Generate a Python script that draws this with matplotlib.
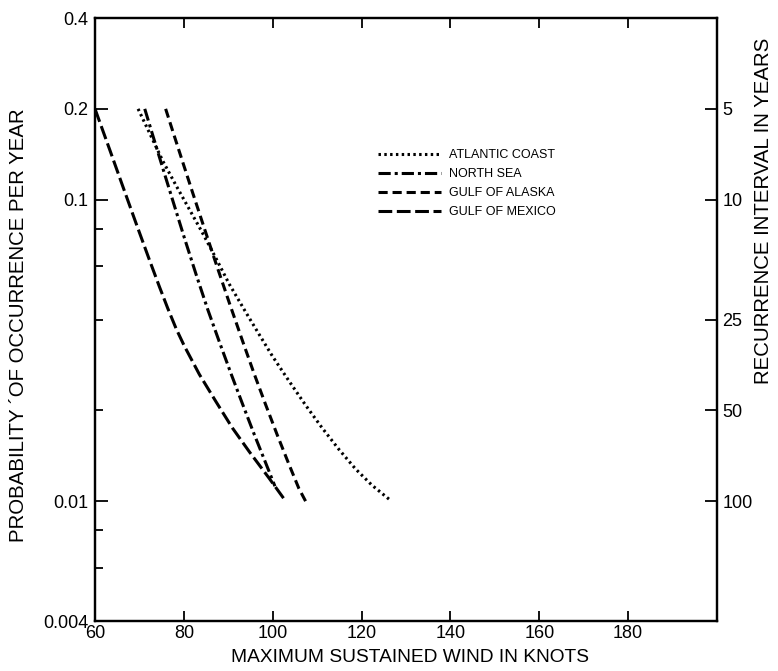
import numpy as np
import matplotlib
matplotlib.use("Agg")
import matplotlib.pyplot as plt
from matplotlib.ticker import NullLocator, FixedLocator

plt.rcParams['font.family'] = ['Liberation Sans', 'DejaVu Sans']

# curves (wind in knots, probability per year)
atl_x = [69.7, 72.3, 75.3, 78.3, 81.3, 84.0, 87.2, 90.2, 93.9, 97.0, 99.9, 103.6,
         107.4, 111.1, 114.8, 118.6, 122.3, 126.7]
atl_y = [0.2, 0.166, 0.134, 0.111, 0.0925, 0.0785, 0.0640, 0.0525, 0.0424, 0.0356,
         0.0303, 0.0251, 0.0208, 0.0175, 0.0149, 0.0128, 0.0113, 0.0100]

ns_x = [71.2, 73.4, 75.7, 77.9, 80.1, 82.8, 85.4, 88.0, 90.6, 93.2, 95.8, 98.4, 100.5]
ns_y = [0.2, 0.1563, 0.1211, 0.0951, 0.0748, 0.0562, 0.0431, 0.0337, 0.0265, 0.0210,
        0.0167, 0.0134, 0.0112]

ak_x = [75.9, 77.5, 79.8, 82.0, 84.2, 86.9, 90.2, 93.2, 95.8, 98.4, 101.0, 103.6,
        105.9, 107.7]
ak_y = [0.2, 0.1687, 0.1324, 0.1052, 0.0838, 0.0635, 0.0456, 0.0340, 0.0265, 0.0209,
        0.0166, 0.0133, 0.0110, 0.0098]

gm_x = [60.0, 63.4, 66.3, 69.3, 72.3, 74.5, 76.4, 78.3, 80.1, 83.5, 87.2, 90.9, 94.7,
        99.2, 102.9]
gm_y = [0.2, 0.1452, 0.1102, 0.0830, 0.0628, 0.0514, 0.0435, 0.0372, 0.0327, 0.0263,
        0.0214, 0.0175, 0.0146, 0.0119, 0.0100]

x_ticks = [60, 80, 100, 120, 140, 160, 180]
p_major = [0.004, 0.01, 0.1, 0.2, 0.4]
p_major_lbl = ['0.004', '0.01', '0.1', '0.2', '0.4']
p_minor = [0.006, 0.008, 0.02, 0.04, 0.06, 0.08]
rec_pos = [0.2, 0.1, 0.04, 0.02, 0.01]
rec_lbl = ['5', '10', '25', '50', '100']

fig = plt.figure(figsize=(7.78, 6.71), dpi=100)
ax = fig.add_axes([0.1221, 0.0745, 0.7995, 0.8985])

lw = 2.2
ax.plot(atl_x, atl_y, color='black', lw=lw, linestyle=(0, (0.8, 1.1)), label='ATLANTIC COAST')
ax.plot(ns_x, ns_y, color='black', lw=lw, linestyle=(0, (4, 1.3, 1, 1.3)), label='NORTH SEA')
ax.plot(ak_x, ak_y, color='black', lw=lw, linestyle=(0, (3, 1.6)), label='GULF OF ALASKA')
ax.plot(gm_x, gm_y, color='black', lw=lw, linestyle=(0, (4.5, 1.5)), label='GULF OF MEXICO')

ax.set_yscale('log')
ax.set_xlim(60, 200)
ax.set_ylim(0.004, 0.4)

ax.set_xticks(x_ticks)
ax.set_xticklabels([str(v) for v in x_ticks])
ax.yaxis.set_major_locator(FixedLocator(p_major))
ax.set_yticklabels(p_major_lbl)
ax.yaxis.set_minor_locator(FixedLocator(p_minor))
ax.yaxis.set_minor_formatter(plt.NullFormatter())
ax.xaxis.set_minor_locator(NullLocator())

ax.tick_params(axis='x', which='major', direction='in', length=7, width=1.3,
               top=True, labelsize=13, pad=3)
ax.tick_params(axis='y', which='major', direction='in', length=9.5, width=1.3,
               right=False, labelsize=13, pad=5)
ax.tick_params(axis='y', which='minor', direction='in', length=5.5, width=1.3, right=False)

for s in ax.spines.values():
    s.set_linewidth(1.6)

ax2 = ax.twinx()
ax2.set_yscale('log')
ax2.set_ylim(0.004, 0.4)
ax2.yaxis.set_major_locator(FixedLocator(rec_pos))
ax2.set_yticklabels(rec_lbl)
ax2.yaxis.set_minor_locator(NullLocator())
ax2.tick_params(axis='y', which='major', direction='in', length=8.5, width=1.3,
                labelsize=13, pad=4)
for s in ax2.spines.values():
    s.set_linewidth(1.6)

ax.set_xlabel('MAXIMUM SUSTAINED WIND IN KNOTS', fontsize=13.8)
ax.xaxis.set_label_coords(0.506, -0.046)
ax.set_ylabel('PROBABILITY \u00b4OF OCCURRENCE PER YEAR', fontsize=14.7)
ax.yaxis.set_label_coords(-0.108, 0.491)
ax2.set_ylabel('RECURRENCE INTERVAL IN YEARS', fontsize=14.7)
ax2.yaxis.set_label_coords(1.059, 0.68)

ax.legend(loc='upper left', bbox_to_anchor=(0.455, 0.783), frameon=False,
          fontsize=9, handlelength=5.0, handletextpad=0.65, labelspacing=0.56,
          borderpad=0, borderaxespad=0)

fig.savefig('out.png', dpi=100)
